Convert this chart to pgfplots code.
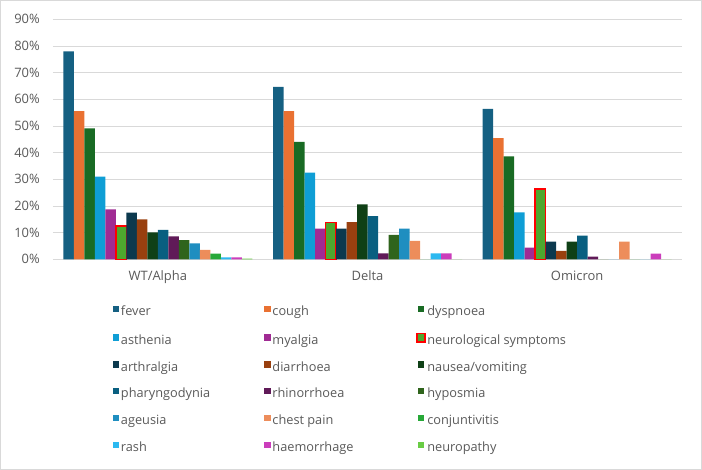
\documentclass[border=0pt]{standalone}
\usepackage{pgfplots}
\pgfplotsset{compat=1.18}
\usepackage{fontspec}
\setmainfont{Open Sans}

% Office palette: accents, darker and lighter variants
\definecolor{cFever}{HTML}{156082}
\definecolor{cCough}{HTML}{E97132}
\definecolor{cDysp}{HTML}{196B24}
\definecolor{cAsth}{HTML}{0F9ED5}
\definecolor{cMyal}{HTML}{A02B93}
\definecolor{cNeuro}{HTML}{4EA72E}
\definecolor{cArth}{HTML}{0C394E}
\definecolor{cDiar}{HTML}{99400F}
\definecolor{cNaus}{HTML}{0F4016}
\definecolor{cPhar}{HTML}{095F80}
\definecolor{cRhin}{HTML}{601A58}
\definecolor{cHypo}{HTML}{2F641C}
\definecolor{cAgeu}{HTML}{1F8EC0}
\definecolor{cChest}{HTML}{ED8D5B}
\definecolor{cConj}{HTML}{27A838}
\definecolor{cRash}{HTML}{2CB9F0}
\definecolor{cHaem}{HTML}{CB3DBB}
\definecolor{cNeurop}{HTML}{69CC45}
\definecolor{txtgray}{HTML}{595959}
\definecolor{gridgray}{HTML}{D9D9D9}
\definecolor{framegray}{HTML}{D9D9D9}

\newcommand{\legtext}[1]{\makebox[143.5bp][l]{#1}}

\begin{document}
\begin{tikzpicture}
% chart frame (also fixes the page size)
\draw[color=framegray, line width=1bp] (-52.5bp,-210.2bp) rectangle (648.5bp,258.8bp);
\begin{axis}[
  at={(0,0)}, anchor=south west,
  scale only axis, width=629bp, height=240bp,
  xmin=-0.5, xmax=2.5, ymin=0, ymax=90,
  ybar=0pt, bar width=10.5bp,
  xtick={0,1,2}, xticklabels={WT/Alpha,Delta,Omicron},
  ytick={0,10,...,90},
  yticklabel={\pgfmathprintnumber{\tick}\%},
  /pgf/number format/assume math mode=true,
  ymajorgrids, grid style={color=gridgray, line width=0.9bp},
  axis x line*=bottom, axis y line*=left,
  x axis line style={color=gridgray, line width=0.9bp, -},
  y axis line style={draw=none},
  major tick length=0pt,
  ticklabel style={font=\fontsize{13}{15}\selectfont, text=txtgray, inner sep=0pt},
  yticklabel style={anchor=east, xshift=-13bp},
  xticklabel style={anchor=base, yshift=-21bp},
  legend columns=3,
  legend cell align=left,
  legend image code/.code={\fill[#1] (0bp,0bp) rectangle (6.5bp,6.5bp);},
  legend style={draw=none, fill=none, inner sep=0pt,
    at={(axis description cs:0.095,-0.193)}, anchor=north west,
    font=\fontsize{12.8}{15}\selectfont, text=txtgray,
    row sep=13.8bp, column sep=0pt,
    nodes={inner sep=0pt, text height=10bp, text depth=3bp},
    /tikz/every odd column/.append style={column sep=1.5bp}},
]
\addplot[fill=cFever, draw=none] coordinates {(0,78.0) (1,64.7) (2,56.4)};
\addlegendentry{\legtext{fever}}
\addplot[fill=cCough, draw=none] coordinates {(0,55.6) (1,55.6) (2,45.4)};
\addlegendentry{\legtext{cough}}
\addplot[fill=cDysp, draw=none] coordinates {(0,49.1) (1,44.0) (2,38.6)};
\addlegendentry{\legtext{dyspnoea}}
\addplot[fill=cAsth, draw=none] coordinates {(0,31.0) (1,32.5) (2,17.6)};
\addlegendentry{\legtext{asthenia}}
\addplot[fill=cMyal, draw=none] coordinates {(0,18.7) (1,11.5) (2,4.4)};
\addlegendentry{\legtext{myalgia}}
\addplot[fill=cNeuro, draw=red, line width=1.6bp,
  legend image code/.code={\draw[fill=cNeuro, draw=red, line width=1.6bp]
    (-0.9bp,-0.9bp) rectangle (7.4bp,7.4bp);}]
  coordinates {(0,12.6) (1,13.8) (2,26.4)};
\addlegendentry{\legtext{neurological symptoms}}
\addplot[fill=cArth, draw=none] coordinates {(0,17.5) (1,11.5) (2,6.6)};
\addlegendentry{\legtext{arthralgia}}
\addplot[fill=cDiar, draw=none] coordinates {(0,15.0) (1,13.9) (2,3.2)};
\addlegendentry{\legtext{diarrhoea}}
\addplot[fill=cNaus, draw=none] coordinates {(0,10.1) (1,20.6) (2,6.6)};
\addlegendentry{\legtext{nausea/vomiting}}
\addplot[fill=cPhar, draw=none] coordinates {(0,11.0) (1,16.2) (2,8.9)};
\addlegendentry{\legtext{pharyngodynia}}
\addplot[fill=cRhin, draw=none] coordinates {(0,8.6) (1,2.2) (2,1.0)};
\addlegendentry{\legtext{rhinorrhoea}}
\addplot[fill=cHypo, draw=none] coordinates {(0,7.2) (1,9.2) (2,0)};
\addlegendentry{\legtext{hyposmia}}
\addplot[fill=cAgeu, draw=none] coordinates {(0,6.0) (1,11.5) (2,0)};
\addlegendentry{\legtext{ageusia}}
\addplot[fill=cChest, draw=none] coordinates {(0,3.5) (1,6.9) (2,6.6)};
\addlegendentry{\legtext{chest pain}}
\addplot[fill=cConj, draw=none] coordinates {(0,2.1) (1,0) (2,0)};
\addlegendentry{\legtext{conjuntivitis}}
\addplot[fill=cRash, draw=none] coordinates {(0,0.7) (1,2.2) (2,0)};
\addlegendentry{\legtext{rash}}
\addplot[fill=cHaem, draw=none] coordinates {(0,0.7) (1,2.2) (2,2.1)};
\addlegendentry{\legtext{haemorrhage}}
\addplot[fill=cNeurop, draw=none] coordinates {(0,0.3) (1,0) (2,0)};
\addlegendentry{\legtext{neuropathy}}
\end{axis}
\end{tikzpicture}
\end{document}
